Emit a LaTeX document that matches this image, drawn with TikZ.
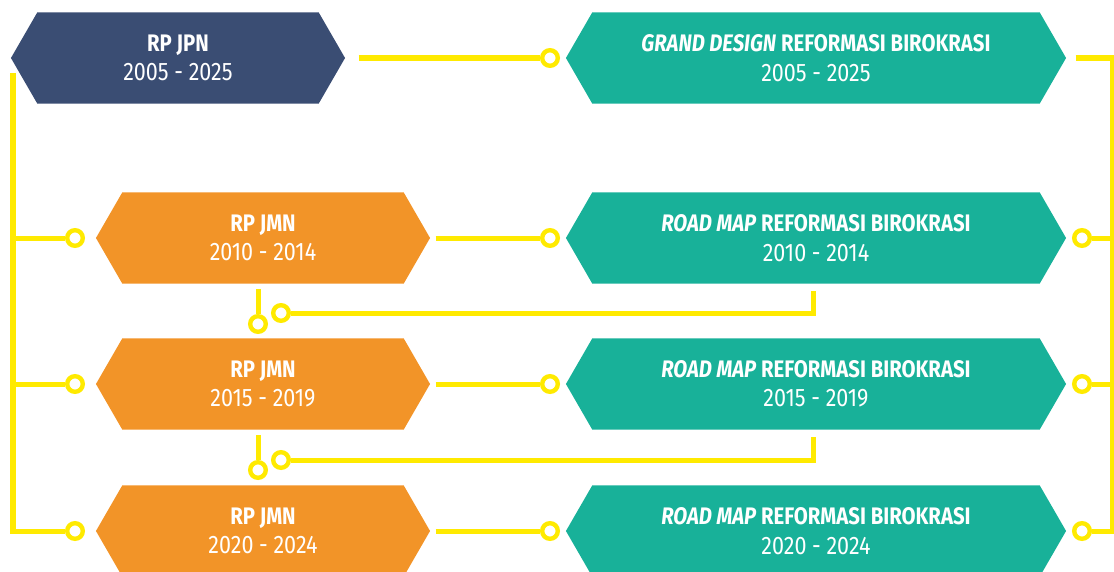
\documentclass[tikz,border=0pt]{standalone}
\usepackage{fontspec}
\setmainfont{Fira Sans}[FakeStretch=0.85]
\usetikzlibrary{shapes.symbols,positioning}
\definecolor{jpnblue}{HTML}{3A4D73}
\definecolor{rbteal}{HTML}{18B199}
\definecolor{jmnorange}{HTML}{F29428}
\definecolor{linkyellow}{HTML}{FFEA00}

\tikzset{
  hexbox/.style={signal, signal from=nowhere, signal to=east and west, signal pointer angle=120,
    minimum height=2.275cm, inner sep=0pt, text=white, align=center,
    font=\fontsize{17}{21}\selectfont},
  plan/.style={hexbox, fill=#1, minimum width=8.35cm},
  reform/.style={hexbox, fill=rbteal, minimum width=12.5cm},
  link/.style={draw=linkyellow, line width=0.125cm},
  knob/.style={circle, draw=linkyellow, fill=white, line width=0.11cm,
    minimum size=0.39cm, inner sep=0pt},
}
\newcommand{\yearline}[1]{{\fontsize{18}{21}\selectfont #1}}

\begin{document}
\begin{tikzpicture}[x=0.025cm,y=-0.025cm]
  \useasboundingbox (0,0) rectangle (1114,572);
  \clip (0,0) rectangle (1114,572);
  % long-term plan and grand design
  \node[plan=jpnblue] (jpn) at (178,58) {\textbf{RP JPN}\\\yearline{2005 - 2025}};
  \node[reform] (gd) at (816,58) {\textbf{\textit{GRAND DESIGN} REFORMASI BIROKRASI}\\\yearline{2005 - 2025}};
  \node[knob] (rl1) at (550,58) {};
  % medium-term plans and road maps
  \foreach \i/\y/\yrtext in {2/238/2010 - 2014, 3/384/2015 - 2019, 4/531/2020 - 2024}{
    \node[plan=jmnorange] (jmn\i) at (263,\y) {\textbf{RP JMN}\\\yearline{\yrtext}};
    \node[reform] (rm\i) at (816,\y) {\textbf{\textit{ROAD MAP} REFORMASI BIROKRASI}\\\yearline{\yrtext}};
    \node[knob] (jl\i) at (75,\y) {};
    \node[knob] (rl\i) at (550,\y) {};
    \node[knob] (rr\i) at (1082,\y) {};
  }
  \node[knob] (jd2) at (258,324) {};
  \node[knob] (rd2) at (281,313) {};
  \node[knob] (jd3) at (258,470) {};
  \node[knob] (rd3) at (281,460) {};

  % yellow connectors
  \coordinate (ltop) at (13,73);
  \coordinate (rtop) at (1112,58);
  \draw[link] (ltop) |- (jl4);
  \foreach \i in {2,3} \draw[link] (jl\i) -- (jl\i -| ltop);
  \draw[link, shorten <=0.33cm] (jpn.east) -- (rl1);
  \foreach \i in {2,3,4} \draw[link, shorten <=0.13cm] (jmn\i.east) -- (rl\i);
  \draw[link, shorten <=0.23cm] (gd.east) -- (rtop) |- (rr4);
  \foreach \i in {2,3} \draw[link] (rr\i) -- (rr\i -| rtop);
  \foreach \i in {2,3}{
    \draw[link, shorten <=0.13cm] (jd\i |- jmn\i.south) -- (jd\i);
    \draw[link, shorten >=0.18cm] (rd\i) -| ([xshift=-0.075cm]rm\i.south);
  }
\end{tikzpicture}
\end{document}
